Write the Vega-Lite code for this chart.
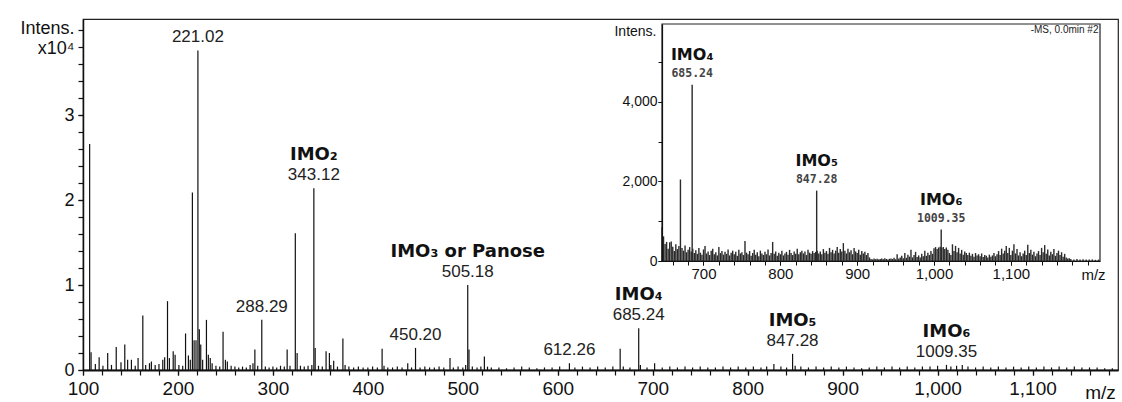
{
  "$schema": "https://vega.github.io/schema/vega-lite/v6.json",
  "width": 1035,
  "height": 351,
  "autosize": {"type": "none"},
  "padding": {"left": 83, "top": 19, "right": 4, "bottom": 32},
  "background": "white",
  "config": {
    "font": "Liberation Sans",
    "view": {"stroke": "#222", "strokeWidth": 1.2},
    "axis": {"grid": false, "domainColor": "#111", "tickColor": "#111", "labelColor": "#111", "titleColor": "#111", "titleFontWeight": "normal", "labelFlush": false, "labelOverlap": false}
  },
  "datasets": {
    "main": [
      {"m":107,"i":2.66},{"m":108.5,"i":0.21},{"m":113,"i":0.07},{"m":117,"i":0.15},{"m":121,"i":0.05},{"m":126,"i":0.2},{"m":130,"i":0.06},{"m":135,"i":0.27},{"m":140,"i":0.09},{"m":144,"i":0.3},{"m":147,"i":0.12},{"m":151,"i":0.12},{"m":155,"i":0.05},{"m":158,"i":0.14},{"m":163,"i":0.64},{"m":166,"i":0.06},{"m":170,"i":0.08},{"m":172,"i":0.1},{"m":176,"i":0.06},{"m":180,"i":0.07},{"m":184,"i":0.12},{"m":186,"i":0.15},{"m":189,"i":0.81},{"m":191,"i":0.14},{"m":195,"i":0.22},{"m":197,"i":0.18},{"m":201,"i":0.06},{"m":205,"i":0.05},{"m":208,"i":0.43},{"m":211,"i":0.17},{"m":213,"i":0.12},{"m":215.2,"i":2.09},{"m":217,"i":0.35},{"m":219,"i":0.35},{"m":221.02,"i":3.76},{"m":222.5,"i":0.48},{"m":224,"i":0.3},{"m":226,"i":0.12},{"m":230,"i":0.59},{"m":232,"i":0.18},{"m":234,"i":0.14},{"m":236,"i":0.08},{"m":240,"i":0.05},{"m":244,"i":0.04},{"m":247.5,"i":0.45},{"m":250,"i":0.12},{"m":252,"i":0.1},{"m":256,"i":0.05},{"m":260,"i":0.04},{"m":264,"i":0.03},{"m":268,"i":0.04},{"m":272,"i":0.03},{"m":276,"i":0.06},{"m":279,"i":0.08},{"m":281,"i":0.24},{"m":284,"i":0.05},{"m":288.29,"i":0.59},{"m":292,"i":0.04},{"m":296,"i":0.03},{"m":300,"i":0.04},{"m":304,"i":0.03},{"m":308,"i":0.05},{"m":312,"i":0.04},{"m":315,"i":0.24},{"m":318,"i":0.05},{"m":323.6,"i":1.61},{"m":325.5,"i":0.2},{"m":329,"i":0.05},{"m":333,"i":0.04},{"m":337,"i":0.05},{"m":341,"i":0.06},{"m":343.12,"i":2.14},{"m":344.5,"i":0.26},{"m":348,"i":0.05},{"m":352,"i":0.04},{"m":356,"i":0.22},{"m":359.5,"i":0.2},{"m":361,"i":0.06},{"m":364,"i":0.11},{"m":368,"i":0.04},{"m":373.7,"i":0.37},{"m":376,"i":0.06},{"m":380,"i":0.04},{"m":385,"i":0.03},{"m":390,"i":0.04},{"m":395,"i":0.03},{"m":400,"i":0.03},{"m":405,"i":0.04},{"m":410,"i":0.03},{"m":415,"i":0.25},{"m":417,"i":0.05},{"m":421,"i":0.03},{"m":426,"i":0.03},{"m":431,"i":0.04},{"m":436,"i":0.03},{"m":442,"i":0.08},{"m":446,"i":0.03},{"m":450.2,"i":0.26},{"m":455,"i":0.03},{"m":460,"i":0.04},{"m":465,"i":0.03},{"m":470,"i":0.03},{"m":475,"i":0.04},{"m":480,"i":0.03},{"m":486.5,"i":0.14},{"m":490,"i":0.03},{"m":495,"i":0.04},{"m":500,"i":0.03},{"m":503,"i":0.06},{"m":505.18,"i":1.0},{"m":506.5,"i":0.24},{"m":510,"i":0.04},{"m":515,"i":0.03},{"m":519,"i":0.04},{"m":522.7,"i":0.16},{"m":526,"i":0.04},{"m":530,"i":0.03},
      {"m":538,"i":0.03},{"m":546,"i":0.02},{"m":554,"i":0.03},{"m":562,"i":0.04},{"m":570,"i":0.03},{"m":578,"i":0.02},{"m":586,"i":0.03},{"m":594,"i":0.03},{"m":602,"i":0.04},{"m":612.26,"i":0.08},{"m":618,"i":0.03},{"m":626,"i":0.04},{"m":634,"i":0.03},{"m":642,"i":0.04},{"m":650,"i":0.03},{"m":658,"i":0.04},{"m":665.7,"i":0.25},{"m":669,"i":0.04},{"m":676,"i":0.03},{"m":685.24,"i":0.49},{"m":687,"i":0.06},{"m":694,"i":0.03},{"m":702,"i":0.08},{"m":710,"i":0.03},{"m":718,"i":0.04},{"m":726,"i":0.03},{"m":734,"i":0.04},{"m":742,"i":0.03},{"m":750,"i":0.04},{"m":758,"i":0.03},{"m":766,"i":0.03},{"m":774,"i":0.04},{"m":782,"i":0.03},{"m":790,"i":0.04},{"m":798,"i":0.03},{"m":806,"i":0.04},{"m":814,"i":0.03},{"m":820,"i":0.04},{"m":827.6,"i":0.07},{"m":835,"i":0.04},{"m":841,"i":0.03},{"m":847.28,"i":0.19},{"m":850,"i":0.05},{"m":856,"i":0.04},{"m":864,"i":0.03},{"m":872,"i":0.04},{"m":880,"i":0.03},{"m":888,"i":0.04},{"m":896,"i":0.03},{"m":904,"i":0.04},{"m":912,"i":0.03},{"m":920,"i":0.02},{"m":928,"i":0.03},{"m":936,"i":0.04},{"m":944,"i":0.03},{"m":952,"i":0.04},{"m":960,"i":0.03},{"m":968,"i":0.04},{"m":976,"i":0.03},{"m":984,"i":0.04},{"m":992,"i":0.04},{"m":1000,"i":0.05},{"m":1009.35,"i":0.06},{"m":1014,"i":0.04},{"m":1020,"i":0.05},{"m":1026,"i":0.06},{"m":1032,"i":0.04},{"m":1040,"i":0.03},{"m":1048,"i":0.04},{"m":1056,"i":0.03},{"m":1064,"i":0.04},{"m":1072,"i":0.03},{"m":1080,"i":0.04},{"m":1088,"i":0.03},{"m":1096,"i":0.04},{"m":1104,"i":0.03},{"m":1112,"i":0.04},{"m":1120,"i":0.03},{"m":1128,"i":0.04},{"m":1136,"i":0.03},{"m":1144,"i":0.04},{"m":1152,"i":0.03},{"m":1160,"i":0.03},{"m":1168,"i":0.03},{"m":1176,"i":0.02},{"m":1184,"i":0.02}
    ],
    "mlab": [
      {"m":221.02,"i":3.76,"t":"221.02","n":""},
      {"m":288.29,"i":0.59,"t":"288.29","n":""},
      {"m":343.12,"i":2.14,"t":"343.12","n":"IMO₂"},
      {"m":450.2,"i":0.26,"t":"450.20","n":""},
      {"m":505.18,"i":1.0,"t":"505.18","n":"IMO₃ or Panose"},
      {"m":612.26,"i":0.08,"t":"612.26","n":""},
      {"m":685.24,"i":0.49,"t":"685.24","n":"IMO₄"},
      {"m":847.28,"i":0.19,"t":"847.28","n":"IMO₅"},
      {"m":1009.35,"i":0.06,"t":"1009.35","n":"IMO₆"}
    ],
    "ins": [
      {"m":646,"i":850},{"m":648,"i":620},{"m":650,"i":430},{"m":652,"i":480},{"m":654,"i":310},{"m":656,"i":470},{"m":658,"i":490},{"m":660,"i":360},{"m":662,"i":250},{"m":664,"i":420},{"m":666,"i":300},{"m":668,"i":380},{"m":670,"i":2050},{"m":672,"i":330},{"m":674,"i":260},{"m":676,"i":390},{"m":678,"i":220},{"m":680,"i":280},{"m":682,"i":350},{"m":684,"i":240},{"m":685.24,"i":4430},{"m":686,"i":310},{"m":688,"i":200},{"m":690,"i":270},{"m":692,"i":180},{"m":694,"i":330},{"m":696,"i":210},{"m":698,"i":160},{"m":700,"i":290},{"m":702,"i":380},{"m":704,"i":190},{"m":706,"i":240},{"m":708,"i":150},{"m":710,"i":260},{"m":712,"i":310},{"m":714,"i":170},{"m":716,"i":220},{"m":718,"i":140},{"m":720,"i":350},{"m":722,"i":200},{"m":724,"i":250},{"m":726,"i":160},{"m":728,"i":230},{"m":730,"i":180},{"m":732,"i":290},{"m":734,"i":140},{"m":736,"i":210},{"m":738,"i":260},{"m":740,"i":170},{"m":742,"i":230},{"m":744,"i":130},{"m":746,"i":280},{"m":748,"i":190},{"m":750,"i":220},{"m":752,"i":150},{"m":754,"i":500},{"m":756,"i":210},{"m":758,"i":170},{"m":760,"i":250},{"m":762,"i":130},{"m":764,"i":200},{"m":766,"i":280},{"m":768,"i":160},{"m":770,"i":220},{"m":772,"i":120},{"m":774,"i":260},{"m":776,"i":190},{"m":778,"i":150},{"m":780,"i":230},{"m":782,"i":170},{"m":784,"i":290},{"m":786,"i":140},{"m":788,"i":200},{"m":790,"i":480},{"m":792,"i":180},{"m":794,"i":240},{"m":796,"i":130},{"m":798,"i":210},{"m":800,"i":170},{"m":802,"i":260},{"m":804,"i":140},{"m":806,"i":190},{"m":808,"i":230},{"m":810,"i":160},{"m":812,"i":280},{"m":814,"i":200},{"m":816,"i":150},{"m":818,"i":240},{"m":820,"i":180},{"m":822,"i":310},{"m":824,"i":170},{"m":826,"i":220},{"m":828,"i":260},{"m":830,"i":190},{"m":832,"i":240},{"m":834,"i":150},{"m":836,"i":280},{"m":838,"i":210},{"m":840,"i":180},{"m":842,"i":250},{"m":844,"i":200},{"m":846,"i":230},{"m":847.28,"i":1770},{"m":848,"i":260},{"m":850,"i":190},{"m":852,"i":240},{"m":854,"i":170},{"m":856,"i":300},{"m":858,"i":210},{"m":860,"i":250},{"m":862,"i":180},{"m":864,"i":330},{"m":866,"i":220},{"m":868,"i":280},{"m":870,"i":190},{"m":872,"i":260},{"m":874,"i":350},{"m":876,"i":210},{"m":878,"i":300},{"m":880,"i":240},{"m":882,"i":450},{"m":884,"i":260},{"m":886,"i":190},{"m":888,"i":310},{"m":890,"i":220},{"m":892,"i":270},{"m":894,"i":170},{"m":896,"i":330},{"m":898,"i":240},{"m":900,"i":200},{"m":902,"i":280},{"m":904,"i":160},{"m":906,"i":250},{"m":908,"i":190},{"m":910,"i":230},{"m":912,"i":150},{"m":914,"i":200},{"m":916,"i":90},{"m":918,"i":50},{"m":920,"i":40},{"m":922,"i":60},{"m":924,"i":45},{"m":926,"i":55},{"m":928,"i":40},{"m":930,"i":50},{"m":932,"i":60},{"m":934,"i":45},{"m":936,"i":70},{"m":938,"i":50},{"m":940,"i":40},{"m":942,"i":55},{"m":944,"i":60},{"m":946,"i":50},{"m":948,"i":80},{"m":950,"i":45},{"m":952,"i":170},{"m":954,"i":60},{"m":956,"i":90},{"m":958,"i":130},{"m":960,"i":70},{"m":962,"i":200},{"m":964,"i":80},{"m":966,"i":160},{"m":968,"i":110},{"m":970,"i":280},{"m":972,"i":90},{"m":974,"i":150},{"m":976,"i":230},{"m":978,"i":100},{"m":980,"i":140},{"m":982,"i":90},{"m":984,"i":180},{"m":986,"i":120},{"m":988,"i":260},{"m":990,"i":130},{"m":992,"i":210},{"m":994,"i":150},{"m":996,"i":250},{"m":998,"i":180},{"m":1000,"i":320},{"m":1002,"i":350},{"m":1004,"i":300},{"m":1006,"i":340},{"m":1008,"i":360},{"m":1009.35,"i":790},{"m":1010,"i":330},{"m":1012,"i":350},{"m":1014,"i":300},{"m":1016,"i":340},{"m":1018,"i":280},{"m":1020,"i":200},{"m":1022,"i":150},{"m":1024,"i":420},{"m":1026,"i":250},{"m":1028,"i":380},{"m":1030,"i":220},{"m":1032,"i":330},{"m":1034,"i":190},{"m":1036,"i":280},{"m":1038,"i":160},{"m":1040,"i":240},{"m":1042,"i":200},{"m":1044,"i":150},{"m":1046,"i":210},{"m":1048,"i":130},{"m":1050,"i":180},{"m":1052,"i":110},{"m":1054,"i":200},{"m":1056,"i":140},{"m":1058,"i":170},{"m":1060,"i":120},{"m":1062,"i":190},{"m":1064,"i":100},{"m":1066,"i":150},{"m":1068,"i":130},{"m":1070,"i":90},{"m":1072,"i":160},{"m":1074,"i":110},{"m":1076,"i":140},{"m":1078,"i":200},{"m":1080,"i":120},{"m":1082,"i":170},{"m":1084,"i":250},{"m":1086,"i":150},{"m":1088,"i":310},{"m":1090,"i":190},{"m":1092,"i":260},{"m":1094,"i":380},{"m":1096,"i":200},{"m":1098,"i":330},{"m":1100,"i":150},{"m":1102,"i":260},{"m":1104,"i":420},{"m":1106,"i":190},{"m":1108,"i":300},{"m":1110,"i":140},{"m":1112,"i":220},{"m":1114,"i":120},{"m":1116,"i":190},{"m":1118,"i":260},{"m":1120,"i":150},{"m":1122,"i":410},{"m":1124,"i":200},{"m":1126,"i":280},{"m":1128,"i":160},{"m":1130,"i":230},{"m":1132,"i":120},{"m":1134,"i":190},{"m":1136,"i":250},{"m":1138,"i":150},{"m":1140,"i":330},{"m":1142,"i":220},{"m":1144,"i":400},{"m":1146,"i":180},{"m":1148,"i":290},{"m":1150,"i":140},{"m":1152,"i":230},{"m":1154,"i":170},{"m":1156,"i":300},{"m":1158,"i":130},{"m":1160,"i":200},{"m":1162,"i":260},{"m":1164,"i":150},{"m":1166,"i":220},{"m":1168,"i":110},{"m":1170,"i":180},{"m":1172,"i":90},{"m":1174,"i":60},{"m":1176,"i":70},{"m":1178,"i":50},{"m":1182,"i":40},{"m":1186,"i":50},{"m":1190,"i":35},{"m":1194,"i":45},{"m":1198,"i":40},{"m":1202,"i":35},{"m":1206,"i":40},{"m":1210,"i":30},{"m":1214,"i":35}
    ],
    "ilab": [
      {"m":685.24,"i":4430,"t":"685.24","n":"IMO₄"},
      {"m":847.28,"i":1770,"t":"847.28","n":"IMO₅"},
      {"m":1009.35,"i":790,"t":"1009.35","n":"IMO₆"}
    ]
  },
  "layer": [
    {
      "layer": [
        {
          "layer": [
            {
              "data": {"name": "main"},
              "mark": {"type": "rule", "color": "#111", "strokeWidth": 1.2},
              "encoding": {
                "x": {"field": "m", "type": "quantitative",
                  "scale": {"domain": [100, 1190], "nice": false, "zero": false},
                  "axis": {"orient": "bottom", "values": [100,200,300,400,500,600,700,800,900,1000,1100], "format": ",d",
                    "labelFontSize": 19, "labelPadding": 4, "tickSize": 5, "tickWidth": 1.2, "domainWidth": 2,
                    "title": "m/z", "titleFontSize": 19, "titleX": 1017, "titleY": 28, "titleAlign": "center", "titleBaseline": "alphabetic"}},
                "y": {"field": "i", "type": "quantitative",
                  "scale": {"domain": [0, 4.13], "nice": false, "zero": true},
                  "axis": {"orient": "left", "values": [0, 1, 2, 3], "format": "d",
                    "labelFontSize": 18, "labelPadding": 4, "tickSize": 5, "tickWidth": 1.2, "domainWidth": 1.5,
                    "title": ["Intens.", "x10⁴"], "titleAngle": 0, "titleAlign": "right", "titleBaseline": "top", "titleX": -9, "titleY": 0, "titleFontSize": 18, "titleLineHeight": 20}},
                "y2": {"datum": 0}
              }
            },
            {
              "data": {"name": "mlab"},
              "mark": {"type": "text", "baseline": "middle", "dy": -13, "fontSize": 17, "color": "#222"},
              "encoding": {
                "x": {"field": "m", "type": "quantitative"},
                "y": {"field": "i", "type": "quantitative"},
                "text": {"field": "t"}
              }
            },
            {
              "data": {"name": "mlab"},
              "transform": [{"filter": "datum.n != ''"}],
              "mark": {"type": "text", "baseline": "middle", "dy": -33, "fontSize": 18, "font": "DejaVu Sans", "fontWeight": "bold", "color": "#111"},
              "encoding": {
                "x": {"field": "m", "type": "quantitative"},
                "y": {"field": "i", "type": "quantitative"},
                "text": {"field": "n"}
              }
            }
          ]
        },
        {
          "data": {"values": [{}]},
          "mark": {"type": "point", "opacity": 0},
          "encoding": {
            "x": {"datum": 100, "type": "quantitative",
              "scale": {"domain": [100, 1190], "nice": false, "zero": false},
              "axis": {"orient": "bottom", "values": [100,120,140,160,180,200,220,240,260,280,300,320,340,360,380,400,420,440,460,480,500,520,540,560,580,600,620,640,660,680,700,720,740,760,780,800,820,840,860,880,900,920,940,960,980,1000,1020,1040,1060,1080,1100,1120,1140,1160,1180],
                "labels": false, "domain": false, "tickSize": 5, "tickWidth": 1.2, "title": null}},
            "y": {"datum": 0, "type": "quantitative",
              "scale": {"domain": [0, 4.13], "nice": false, "zero": true},
              "axis": {"orient": "left", "values": [0,0.2,0.4,0.6,0.8,1,1.2,1.4,1.6,1.8,2,2.2,2.4,2.6,2.8,3,3.2,3.4,3.6,3.8,4],
                "labels": false, "domain": false, "tickSize": 5, "tickWidth": 1.2, "title": null}}
          }
        }
      ],
      "resolve": {"scale": {"x": "independent", "y": "independent"}, "axis": {"x": "independent", "y": "independent"}}
    },
    {
      "layer": [
        {
          "layer": [
            {
              "data": {"values": [{}]},
              "mark": {"type": "rect", "fill": "white", "stroke": "#222", "strokeWidth": 1.2},
              "encoding": {
                "x": {"datum": 646, "type": "quantitative",
                  "scale": {"domain": [646, 1216], "range": [579, 1017], "nice": false, "zero": false},
                  "axis": {"orient": "bottom", "offset": -109, "zindex": 1,
                    "values": [700,800,900,1000,1100], "format": ",d",
                    "labelFontSize": 15, "labelPadding": 1, "tickSize": 4, "domainWidth": 1.2,
                    "title": "m/z", "titleFontSize": 15, "titleX": 1010, "titleY": 18, "titleAlign": "center", "titleBaseline": "alphabetic"}},
                "x2": {"datum": 1216},
                "y": {"datum": 0, "type": "quantitative",
                  "scale": {"domain": [0, 5960], "range": [242, 5], "nice": false, "zero": true},
                  "axis": {"orient": "left", "offset": -579, "zindex": 1,
                    "values": [0, 2000, 4000], "format": ",d",
                    "labelFontSize": 14, "labelPadding": 1, "tickSize": 4, "domainWidth": 1.2,
                    "title": "Intens.", "titleAngle": 0, "titleAlign": "right", "titleBaseline": "middle", "titleX": -6, "titleY": 12, "titleFontSize": 14}},
                "y2": {"datum": 5960}
              }
            },
            {
              "data": {"name": "ins"},
              "mark": {"type": "rule", "color": "#2a2a2a", "strokeWidth": 1.4},
              "encoding": {
                "x": {"field": "m", "type": "quantitative"},
                "y": {"field": "i", "type": "quantitative"},
                "y2": {"datum": 0}
              }
            },
            {
              "data": {"name": "ilab"},
              "mark": {"type": "text", "baseline": "middle", "dy": -11, "fontSize": 11.5, "font": "DejaVu Sans Mono", "fontWeight": "bold", "color": "#444"},
              "encoding": {
                "x": {"field": "m", "type": "quantitative"},
                "y": {"field": "i", "type": "quantitative"},
                "text": {"field": "t"}
              }
            },
            {
              "data": {"name": "ilab"},
              "mark": {"type": "text", "baseline": "middle", "dy": -30, "fontSize": 16, "font": "DejaVu Sans", "fontWeight": "bold", "color": "#111"},
              "encoding": {
                "x": {"field": "m", "type": "quantitative"},
                "y": {"field": "i", "type": "quantitative"},
                "text": {"field": "n"}
              }
            },
            {
              "data": {"values": [{}]},
              "mark": {"type": "text", "align": "right", "baseline": "top", "fontSize": 10, "color": "#222", "text": "-MS, 0.0min #2"},
              "encoding": {
                "x": {"datum": 1214, "type": "quantitative"},
                "y": {"datum": 5930, "type": "quantitative"}
              }
            }
          ]
        },
        {
          "data": {"values": [{}]},
          "mark": {"type": "point", "opacity": 0},
          "encoding": {
            "x": {"datum": 700, "type": "quantitative",
              "scale": {"domain": [646, 1216], "range": [579, 1017], "nice": false, "zero": false},
              "axis": {"orient": "bottom", "offset": -109, "zindex": 1,
                "values": [660,680,700,720,740,760,780,800,820,840,860,880,900,920,940,960,980,1000,1020,1040,1060,1080,1100,1120,1140,1160,1180,1200],
                "labels": false, "domain": false, "tickSize": 4, "title": null}},
            "y": {"datum": 0, "type": "quantitative",
              "scale": {"domain": [0, 5960], "range": [242, 5], "nice": false, "zero": true},
              "axis": {"orient": "left", "offset": -579, "zindex": 1,
                "values": [0,1000,2000,3000,4000,5000],
                "labels": false, "domain": false, "tickSize": 4, "title": null}}
          }
        }
      ],
      "resolve": {"scale": {"x": "independent", "y": "independent"}, "axis": {"x": "independent", "y": "independent"}}
    }
  ],
  "resolve": {"scale": {"x": "independent", "y": "independent"}, "axis": {"x": "independent", "y": "independent"}}
}
